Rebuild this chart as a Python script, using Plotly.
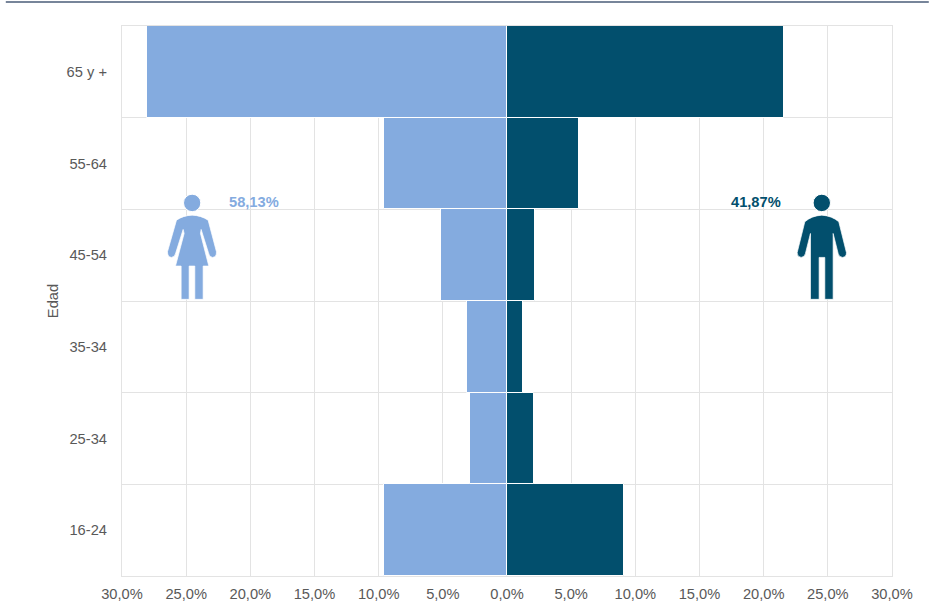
import plotly.graph_objects as go

categories = ["16-24", "25-34", "35-34", "45-54", "55-64", "65 y +"]
mujeres = [9.55, 2.85, 3.15, 5.12, 9.55, 28.03]
hombres = [9.15, 2.13, 1.28, 2.18, 5.6, 21.55]
tick_vals = [-30, -25, -20, -15, -10, -5, 0, 5, 10, 15, 20, 25, 30]
tick_text = ["30,0%", "25,0%", "20,0%", "15,0%", "10,0%", "5,0%", "0,0%",
             "5,0%", "10,0%", "15,0%", "20,0%", "25,0%", "30,0%"]

LIGHT = "#84ABDF"
DARK = "#024F6D"
GRID = "#E3E3E3"
TEXT = "#595959"
W, H = 929, 613
L, R, T, B = 122.2, 892.2, 25.5, 576.5
FS = 14.67


def px(x):
    return (x - L) / (R - L)


def py(y):
    return (B - y) / (B - T)


def icon_path(points, ox, oy):
    parts = []
    for cmd, *coords in points:
        out = []
        for i in range(0, len(coords), 2):
            out.append(f"{px(ox + coords[i] / 3):.5f},{py(oy + coords[i + 1] / 3):.5f}")
        parts.append(cmd + " ".join(out))
    return " ".join(parts) + " Z"


woman = [
    ("M", 187, 135), ("Q", 160, 136, 140, 150), ("L", 113, 245),
    ("Q", 113, 261, 125, 262), ("Q", 136, 261, 138, 248), ("L", 160, 178),
    ("L", 163, 190), ("L", 137, 288), ("L", 154, 288), ("L", 154, 388),
    ("L", 178, 388), ("L", 178, 288), ("L", 195, 288), ("L", 195, 388),
    ("L", 220, 388), ("L", 220, 288), ("L", 237, 288), ("L", 212, 190),
    ("L", 214, 178), ("L", 236, 248), ("Q", 238, 261, 248, 262),
    ("Q", 261, 261, 260, 245), ("L", 235, 150), ("Q", 214, 136, 187, 135),
]
man = [
    ("M", 396, 135), ("Q", 365, 137, 345, 155), ("L", 322, 248),
    ("Q", 322, 261, 334, 262), ("Q", 345, 261, 347, 250), ("L", 362, 190),
    ("L", 362, 388), ("L", 388, 388), ("L", 388, 262), ("L", 405, 262),
    ("L", 405, 388), ("L", 430, 388), ("L", 430, 190), ("L", 445, 250),
    ("Q", 447, 261, 458, 262), ("Q", 470, 261, 470, 248), ("L", 447, 155),
    ("Q", 427, 137, 396, 135),
]

fig = go.Figure()
fig.add_bar(y=categories, x=[-v for v in mujeres], orientation="h", name="Mujeres",
            marker=dict(color=LIGHT, line=dict(color="white", width=1)))
fig.add_bar(y=categories, x=hombres, orientation="h", name="Hombres",
            marker=dict(color=DARK, line=dict(color="white", width=1)))

shapes = [
    dict(type="line", xref="paper", yref="paper", x0=px(6), x1=px(929), y0=py(1.5), y1=py(1.5),
         line=dict(color="#4A5D78", width=1.5)),
    dict(type="rect", xref="paper", yref="paper", x0=px(205), x1=px(303), y0=py(183), y1=py(217),
         fillcolor="white", line=dict(width=0), layer="between"),
    dict(type="rect", xref="paper", yref="paper", x0=px(707), x1=px(805), y0=py(183), y1=py(217),
         fillcolor="white", line=dict(width=0), layer="between"),
    dict(type="path", xref="paper", yref="paper", path=icon_path(woman, 130, 170),
         fillcolor=LIGHT, line=dict(color="white", width=0.7)),
    dict(type="path", xref="paper", yref="paper", path=icon_path(man, 690, 170),
         fillcolor=DARK, line=dict(color="white", width=0.7)),
    dict(type="circle", xref="paper", yref="paper", x0=px(183.7), x1=px(201), y0=py(194), y1=py(211.5),
         fillcolor=LIGHT, line=dict(color="white", width=1)),
    dict(type="circle", xref="paper", yref="paper", x0=px(813.3), x1=px(830.7), y0=py(194), y1=py(211.5),
         fillcolor=DARK, line=dict(color="white", width=1)),
]

fig.update_layout(
    width=W, height=H, autosize=False,
    margin=dict(l=L, r=W - R, t=T, b=H - B),
    paper_bgcolor="white", plot_bgcolor="white",
    barmode="relative", bargap=0, showlegend=False,
    font=dict(family="Liberation Sans, Arial, sans-serif", size=FS, color=TEXT),
    shapes=shapes,
    annotations=[
        dict(text="<b>58,13%</b>", xref="paper", yref="paper", x=px(254), y=py(201.5), showarrow=False,
             xanchor="center", yanchor="middle", font=dict(size=FS, color=LIGHT)),
        dict(text="<b>41,87%</b>", xref="paper", yref="paper", x=px(756), y=py(201.5), showarrow=False,
             xanchor="center", yanchor="middle", font=dict(size=FS, color=DARK)),
    ],
    xaxis=dict(range=[-30, 30], tickmode="array", tickvals=tick_vals, ticktext=tick_text,
               automargin=False,
               showgrid=True, gridcolor=GRID, gridwidth=1.2, zeroline=False,
               showline=True, linecolor=GRID, linewidth=1.2, mirror=True,
               ticks="outside", ticklen=4, tickcolor="rgba(0,0,0,0)"),
    yaxis=dict(type="category", categoryorder="array", categoryarray=categories,
               automargin=False,
               tickson="boundaries", showgrid=True, gridcolor=GRID, gridwidth=1.2,
               showline=True, linecolor=GRID, linewidth=1.2, mirror=True,
               ticks="", ticklabelstandoff=11,
               title=dict(text="Edad", standoff=4, font=dict(size=FS, color=TEXT))),
)

fig.write_html("out.html", config={"displayModeBar": False},
               post_script="document.body.style.margin='0';")
